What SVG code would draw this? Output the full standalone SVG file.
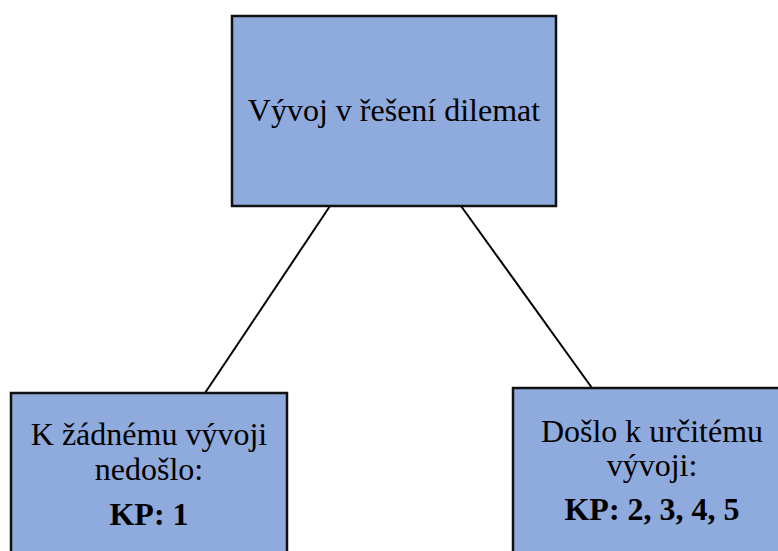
<svg xmlns="http://www.w3.org/2000/svg" width="778" height="551" viewBox="0 0 778 551">
<style>
.box{fill:#8FAADC;stroke:#111;stroke-width:2.5}
.t{font-family:"Liberation Serif","Times New Roman",serif;font-size:32px;fill:#000;text-anchor:middle}
.b{font-weight:bold}
.c{stroke:#000;stroke-width:2;fill:none}
</style>
<rect width="778" height="551" fill="#fff"/>
<g id="connectors">
<line class="c" x1="330" y1="206" x2="205" y2="393"/>
<line class="c" x1="461" y1="206" x2="592" y2="388"/>
</g>
<g id="root">
<rect class="box" x="232" y="16" width="324" height="190"/>
<text class="t" x="394" y="121">Vývoj v řešení dilemat</text>
</g>
<g id="none">
<rect class="box" x="11" y="393" width="276" height="170"/>
<text class="t" x="149" y="445">K žádnému vývoji</text>
<text class="t" x="149" y="480">nedošlo:</text>
<text class="t b" x="149" y="525">KP: 1</text>
</g>
<g id="some">
<rect class="box" x="513" y="388" width="280" height="175"/>
<text class="t" x="652" y="442">Došlo k určitému</text>
<text class="t" x="652" y="476">vývoji:</text>
<text class="t b" x="652" y="520">KP: 2, 3, 4, 5</text>
</g>
</svg>
